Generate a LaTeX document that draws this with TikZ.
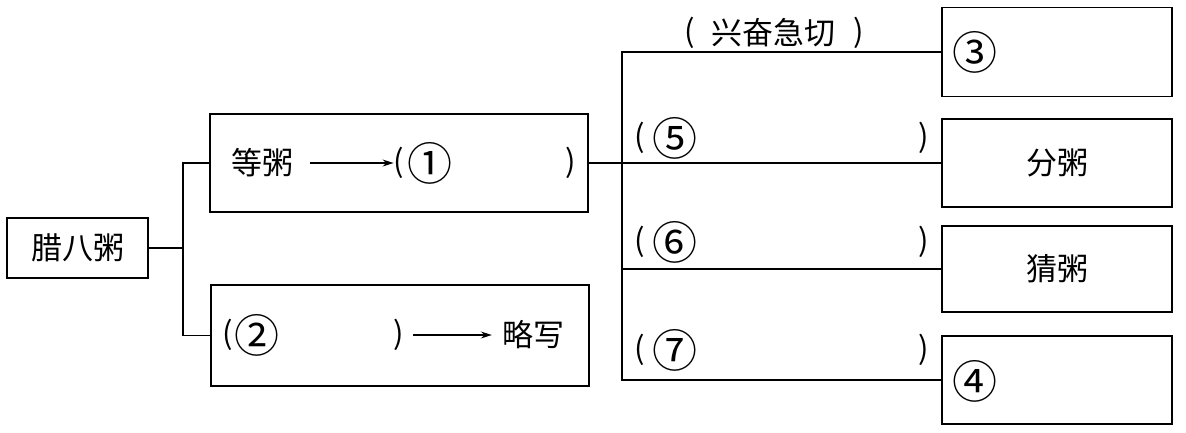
\documentclass[tikz,border=0pt]{standalone}
\usepackage{fontspec}
\setmainfont{Noto Sans CJK SC}
\usetikzlibrary{arrows.meta}
\begin{document}
\begin{tikzpicture}[x=1pt,y=-1pt,
  box/.style={draw, rectangle, inner sep=0pt, line width=1.7pt},
  lbl/.style={inner sep=0pt, font=\fontsize{31}{31}\selectfont},
  num/.style={inner sep=0pt, font=\fontsize{45}{45}\selectfont},
  par/.style={inner sep=0pt, font=\fontsize{31}{31}\selectfont},
  conn/.style={line width=1.7pt},
  arr/.style={-{Stealth[length=11pt,width=7pt]}, line width=1.3pt}]
\useasboundingbox (0,0) rectangle (1186,432);
% boxes
\node[box, lbl, minimum width=141pt, minimum height=60pt] (la) at (77.5,248) {腊八粥};
\node[box, minimum width=378pt, minimum height=98pt] (up) at (399,163) {};
\node[box, minimum width=378pt, minimum height=101pt] (lo) at (400,335.5) {};
\node[box, minimum width=230pt, minimum height=89pt] (b3) at (1057,52) {};
\node[box, lbl, minimum width=230pt, minimum height=88pt] (b5) at (1057,163) {分粥};
\node[box, lbl, minimum width=230pt, minimum height=86pt] (b6) at (1057,269) {猜粥};
\node[box, minimum width=230pt, minimum height=88pt] (b4) at (1057,380) {};
% junctions
\coordinate (j1) at (183,248);
\coordinate (j2) at (622,163);
\draw[conn] (la.east) -- (j1);
\draw[conn] (up.west) -| (j1) |- (lo.west);
\draw[conn] (up.east) -- (j2);
\draw[conn] (b3.west) -| (j2) |- (b4.west);
\draw[conn] (j2) -- (b5.west);
\draw[conn] (j2) |- (b6.west);
% upper box content
\node[lbl] (t1) at (262,163) {等粥};
\node[par] (p1l) at (399,163) {(};
\node[num] (n1) at (430,163) {①};
\node[par] (p1r) at (571,163) {)};
\coordinate (a1s) at (310,163);
\draw[arr] (a1s) -- (p1l.west);
% lower box content
\node[par] (p2l) at (228,335) {(};
\node[num] (n2) at (257,335) {②};
\node[par] (p2r) at (399,335) {)};
\node[lbl] (t2) at (533,335) {略写};
\draw[arr] ([xshift=9pt]p2r.east) -- ([xshift=-10pt]t2.west);
% right labels
\node[par] (p3l) at (690,33) {(};
\node[lbl] (t3) at (773,33) {兴奋急切};
\node[par] (p3r) at (859,33) {)};
\node[par] (p5l) at (640,138) {(};
\node[num] (n5) at (675,138) {⑤};
\node[par] (p5r) at (924,138) {)};
\node[par] (p6l) at (640,242) {(};
\node[num] (n6) at (675,242) {⑥};
\node[par] (p6r) at (924,242) {)};
\node[par] (p7l) at (640,350) {(};
\node[num] (n7) at (675,350) {⑦};
\node[par] (p7r) at (924,350) {)};
\node[num] (n3) at (975,52) {③};
\node[num] (n4) at (975,381) {④};
\end{tikzpicture}
\end{document}
